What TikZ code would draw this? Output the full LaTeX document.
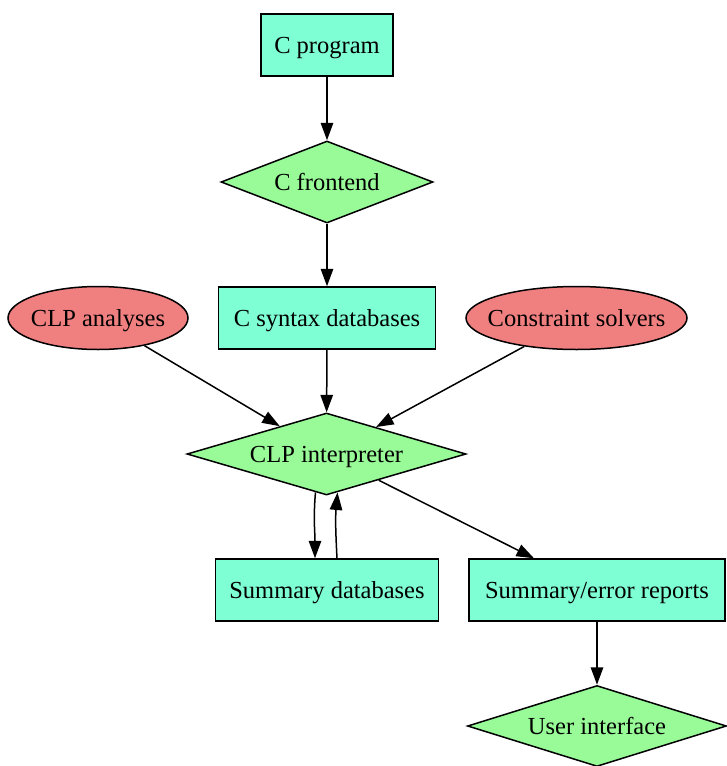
\documentclass[tikz,border=0pt]{standalone}
\usepackage{fontspec}
\setmainfont{Liberation Serif}
\usetikzlibrary{shapes.geometric,arrows.meta}
\definecolor{aqua}{HTML}{7FFFD4}
\definecolor{pgreen}{HTML}{98FB98}
\definecolor{lcoral}{HTML}{F08080}
\begin{document}
\begin{tikzpicture}[x=1pt,y=-1pt,
  every node/.style={font=\fontsize{24.5pt}{29pt}\selectfont, line width=1.5pt, draw=black, inner sep=0pt, text height=17pt, text depth=0pt},
  boxnode/.style={rectangle, fill=aqua, minimum height=62pt},
  dianode/.style={diamond, fill=pgreen, minimum height=82pt},
  ellnode/.style={ellipse, fill=lcoral, minimum height=63pt, inner xsep=-40pt, inner ysep=-15pt},
  arr/.style={-{Triangle[length=17.5pt,width=12.5pt]}, line width=1.5pt}]
\useasboundingbox (0,0) rectangle (726,766);
\node[boxnode, minimum width=132pt] (cprog) at (327,45) {C program};
\node[dianode, minimum width=212pt, aspect=2.585] (cfront) at (327,182) {C frontend};
\node[boxnode, minimum width=217pt] (csyn) at (327,318) {C syntax databases};
\node[ellnode, minimum width=180pt] (clpan) at (98,318) {CLP analyses};
\node[ellnode, minimum width=221pt] (csolv) at (576.5,318) {Constraint solvers};
\node[dianode, minimum width=279pt, aspect=3.4] (interp) at (326.5,454) {CLP interpreter};
\node[boxnode, minimum width=223pt] (sumdb) at (327,590) {Summary databases};
\node[boxnode, minimum width=256pt] (sumrep) at (597,590) {Summary/error reports};
\node[dianode, minimum width=259pt, minimum height=81pt, aspect=3.2] (ui) at (597,726) {User interface};
\draw[arr] (cprog) -- (cfront);
\draw[arr] (cfront) -- (csyn);
\draw[arr] (csyn) -- (interp);
\draw[arr] (clpan) -- (interp);
\draw[arr] (csolv) -- (interp);
\draw[arr] (interp) -- (sumrep);
\draw[arr] (sumrep) -- (ui);
\draw[arr] (interp.-106) to[out=-95,in=90] ([xshift=-12pt]sumdb.north);
\draw[arr] ([xshift=10pt]sumdb.north) to[out=93,in=-95] (interp.-74);
\end{tikzpicture}
\end{document}
